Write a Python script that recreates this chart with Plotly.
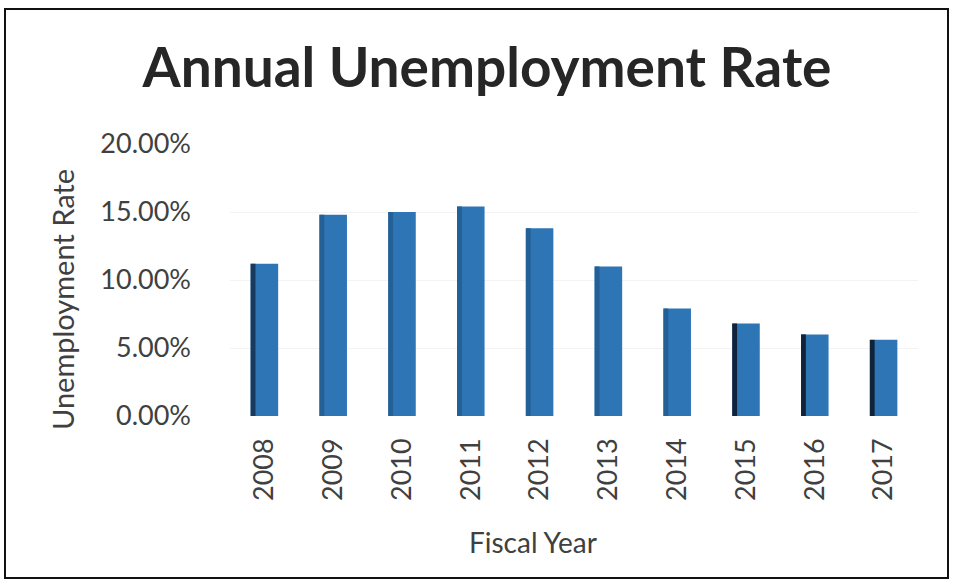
import plotly.graph_objects as go

years = ["2008", "2009", "2010", "2011", "2012", "2013", "2014", "2015", "2016", "2017"]
rates = [11.2, 14.8, 15.0, 15.4, 13.8, 11.0, 7.9, 6.8, 6.0, 5.6]  # percent
y_ticks = [0, 5, 10, 15, 20]
y_tick_labels = ["0.00%", "5.00%", "10.00%", "15.00%", "20.00%"]
edge_colors = ["#173a5e", "#245f96", "#245f96", "#245f96", "#245f96",
               "#245f96", "#245f96", "#10233a", "#10233a", "#10233a"]

W, H = 955, 585
L, R, T, B = 230, 37, 144, 169
PW, PH = W - L - R, H - T - B

def px_x(px):
    return (px - L) / PW

def px_y(py):
    return (H - B - py) / PH

FONT = "Lato"
TXT = "#404040"

fig = go.Figure()
fig.add_trace(go.Bar(
    x=years, y=rates, width=0.4,
    marker=dict(color="#2e75b6", line=dict(width=0)),
    hovertemplate="%{x}: %{y:.2f}%<extra></extra>",
))
fig.add_trace(go.Bar(
    x=years, y=rates, width=0.07, offset=-0.2,
    marker=dict(color=edge_colors, line=dict(width=0)),
    hoverinfo="skip",
))

fig.update_layout(
    width=W, height=H,
    margin=dict(l=L, r=R, t=T, b=B),
    paper_bgcolor="white", plot_bgcolor="white",
    barmode="overlay", showlegend=False,
    font=dict(family=FONT, color=TXT),
    title=dict(text="<b>Annual Unemployment Rate</b>", x=487 / W, xanchor="center",
               y=1 - 68 / H, yanchor="middle",
               font=dict(family=FONT, size=55, color="#262626")),
    xaxis=dict(type="category", tickangle=-90, tickfont=dict(size=27, color=TXT),
               showgrid=False, showline=False, ticks="", ticklabelstandoff=16),
    yaxis=dict(range=[0, 20], tickvals=y_ticks, ticktext=y_tick_labels,
               tickfont=dict(size=27, color=TXT), showgrid=True, gridcolor="#f3f3f3",
               gridwidth=1, zeroline=False, showline=False, ticks="", ticklabelstandoff=38),
    annotations=[
        dict(text="Unemployment Rate", xref="paper", yref="paper",
             x=px_x(62), y=px_y(300), textangle=-90, showarrow=False,
             xanchor="center", yanchor="middle", font=dict(size=29, color=TXT)),
        dict(text="Fiscal Year", xref="paper", yref="paper",
             x=px_x(533), y=px_y(542), showarrow=False,
             xanchor="center", yanchor="middle", font=dict(size=28, color=TXT)),
    ],
    shapes=[dict(type="rect", xref="paper", yref="paper",
                 x0=px_x(5), x1=px_x(948), y0=px_y(578), y1=px_y(9),
                 line=dict(color="#111111", width=2))],
)

fig.write_html("out.html", config={"displayModeBar": False},
               post_script="document.body.style.margin='0';")
